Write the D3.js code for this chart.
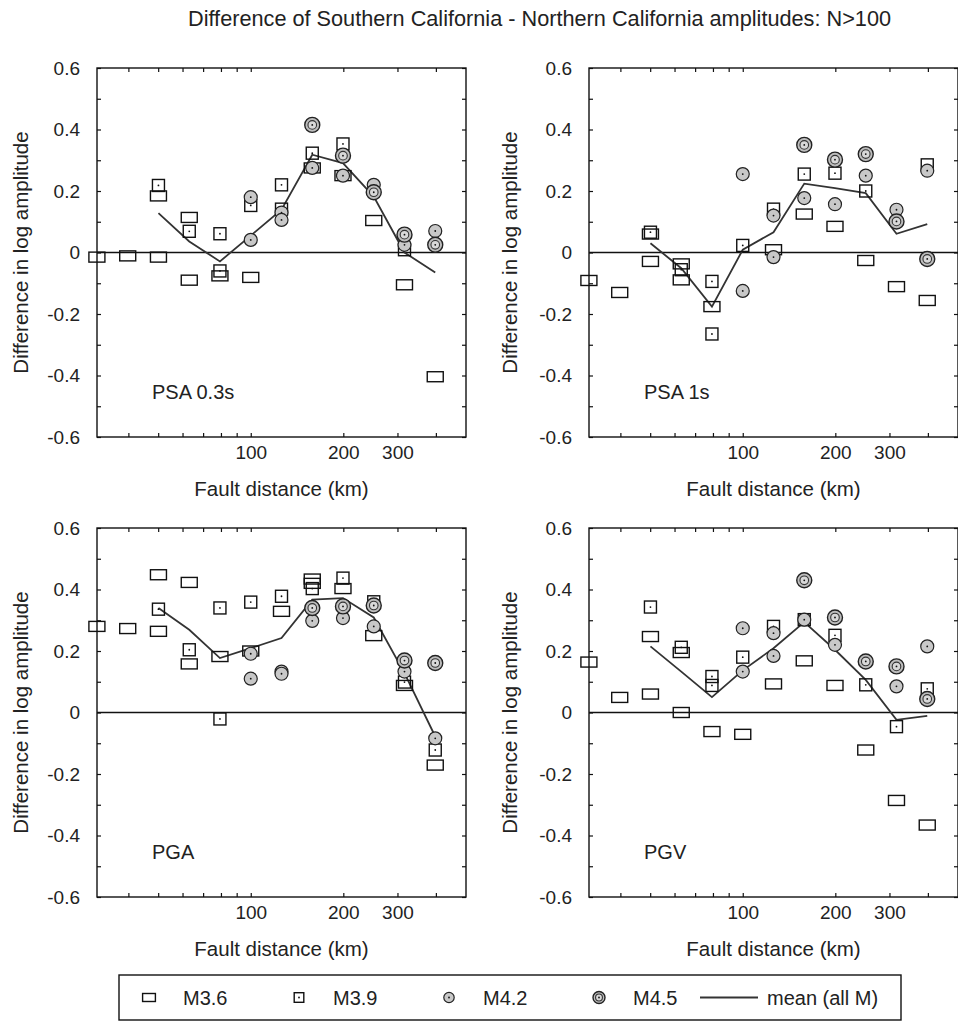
<!DOCTYPE html>
<html>
<head>
<meta charset="utf-8">
<script src="https://cdn.jsdelivr.net/npm/d3@7"></script>
<style>
  body { margin: 0; background: #fff; }
  svg { display: block; font-family: "Liberation Sans", Arial, sans-serif; }
</style>
</head>
<body>
<svg id="chart" width="958" height="1024"></svg>
<script>
// distance bins (km), 0.1 log units apart
const distances = [31.6, 39.8, 50.1, 63.1, 79.4, 100, 125.9, 158.5, 199.5, 251.2, 316.2, 398.1];
const yTickValues = [-0.6, -0.5, -0.4, -0.3, -0.2, -0.1, 0, 0.1, 0.2, 0.3, 0.4, 0.5, 0.6];
const yTickLabels = ['-0.6', '', '-0.4', '', '-0.2', '', '0', '', '0.2', '', '0.4', '', '0.6'];
const xTickValues = [40, 50, 60, 70, 80, 90, 100, 200, 300, 400];
const xTickLabels = ['', '', '', '', '', '', '100', '200', '300', ''];

// [bin index, difference] per magnitude
const psa03M36 = [[0,-0.015],[1,-0.011],[2,-0.015],[2,0.184],[3,-0.09],[3,0.114],[4,-0.076],[5,-0.081],[7,0.275],[8,0.25],[9,0.104],[10,-0.105],[11,-0.404]];
const psa03M39 = [[2,0.218],[3,0.069],[4,0.061],[4,-0.06],[5,0.153],[6,0.22],[6,0.141],[7,0.323],[8,0.353],[10,0.009]];
const psa03M42 = [[5,0.18],[5,0.041],[6,0.13],[6,0.106],[7,0.275],[8,0.25],[9,0.22],[10,0.025],[11,0.07]];
const psa03M45 = [[7,0.415],[8,0.315],[9,0.196],[10,0.058],[11,0.025]];
const psa03Mean = [null, null, 0.128, 0.036, -0.029, 0.055, 0.139, 0.318, 0.291, 0.182, 0.0, -0.065];

const psa1M36 = [[0,-0.091],[1,-0.13],[2,-0.029],[2,0.06],[3,-0.037],[3,-0.089],[4,-0.176],[6,0.009],[7,0.125],[8,0.085],[9,-0.026],[10,-0.111],[11,-0.156]];
const psa1M39 = [[2,0.066],[3,-0.056],[4,-0.094],[4,-0.265],[5,0.023],[6,0.141],[7,0.255],[8,0.258],[9,0.2],[11,0.285]];
const psa1M42 = [[5,0.255],[5,-0.125],[6,0.12],[6,-0.015],[7,0.177],[8,0.157],[9,0.25],[10,0.139],[11,0.266]];
const psa1M45 = [[7,0.35],[8,0.302],[9,0.32],[10,0.101],[11,-0.021]];
const psa1Mean = [null, null, 0.03, -0.051, -0.176, 0.009, 0.066, 0.224, 0.209, 0.193, 0.061, 0.092];

const pgaM36 = [[0,0.28],[1,0.273],[2,0.448],[2,0.264],[3,0.423],[3,0.158],[4,0.182],[5,0.2],[6,0.329],[7,0.434],[7,0.42],[8,0.403],[9,0.25],[10,0.088],[11,-0.171]];
const pgaM39 = [[2,0.336],[3,0.204],[4,0.34],[4,-0.021],[5,0.359],[6,0.378],[7,0.403],[8,0.437],[9,0.36],[10,0.099],[11,-0.122]];
const pgaM42 = [[5,0.191],[5,0.11],[6,0.133],[6,0.126],[7,0.34],[7,0.298],[8,0.307],[9,0.28],[10,0.133],[11,-0.084]];
const pgaM45 = [[7,0.34],[8,0.345],[9,0.348],[10,0.169],[11,0.161]];
const pgaMean = [null, null, 0.34, 0.269, 0.177, 0.209, 0.242, 0.367, 0.372, 0.309, 0.128, -0.078];

const pgvM36 = [[0,0.164],[1,0.049],[2,0.247],[2,0.06],[3,0.195],[3,0.0],[4,-0.062],[5,-0.071],[6,0.093],[7,0.168],[8,0.088],[9,-0.122],[10,-0.286],[11,-0.366]];
const pgvM39 = [[2,0.343],[3,0.212],[4,0.117],[4,0.088],[5,0.18],[6,0.28],[7,0.302],[8,0.251],[9,0.09],[10,-0.046],[11,0.077]];
const pgvM42 = [[5,0.274],[5,0.133],[6,0.258],[6,0.184],[7,0.302],[8,0.22],[10,0.085],[11,0.215]];
const pgvM45 = [[7,0.43],[8,0.309],[9,0.166],[10,0.15],[11,0.044]];
const pgvMean = [null, null, 0.215, 0.133, 0.05, 0.137, 0.209, 0.294, 0.204, 0.106, -0.024, -0.011];

const panels = [
  { label: 'PSA 0.3s', left: 97, top: 68, m36: psa03M36, m39: psa03M39, m42: psa03M42, m45: psa03M45, mean: psa03Mean },
  { label: 'PSA 1s', left: 589, top: 68, m36: psa1M36, m39: psa1M39, m42: psa1M42, m45: psa1M45, mean: psa1Mean },
  { label: 'PGA', left: 97, top: 528, m36: pgaM36, m39: pgaM39, m42: pgaM42, m45: pgaM45, mean: pgaMean },
  { label: 'PGV', left: 589, top: 528, m36: pgvM36, m39: pgvM39, m42: pgvM42, m45: pgvM45, mean: pgvMean }
];

const size = 369;
const svg = d3.select('#chart');

const x = d3.scaleLog().domain([Math.pow(10, 1.5), Math.pow(10, 2.7)]).range([0, size]);
const y = d3.scaleLinear().domain([-0.6, 0.6]).range([size, 0]);

// marker painters
const drawM36 = (g, cx, cy, k = 1) => {
  g.append('rect').attr('x', cx - 8 * k).attr('y', cy - 5 * k).attr('width', 16 * k).attr('height', 10 * k)
    .attr('fill', 'none').attr('stroke', '#111').attr('stroke-width', 1.4);
};
const drawM39 = (g, cx, cy, k = 1) => {
  g.append('rect').attr('x', cx - 6 * k).attr('y', cy - 6 * k).attr('width', 12 * k).attr('height', 12 * k)
    .attr('fill', 'none').attr('stroke', '#111').attr('stroke-width', 1.4);
  g.append('circle').attr('cx', cx).attr('cy', cy).attr('r', 0.9).attr('fill', '#111');
};
const drawM42 = (g, cx, cy, k = 1) => {
  g.append('circle').attr('cx', cx).attr('cy', cy).attr('r', 6.5 * k)
    .attr('fill', '#c8c8c8').attr('stroke', '#222').attr('stroke-width', 1.2);
  g.append('circle').attr('cx', cx).attr('cy', cy).attr('r', 0.9).attr('fill', '#111');
};
const drawM45 = (g, cx, cy, k = 1) => {
  g.append('circle').attr('cx', cx).attr('cy', cy).attr('r', 7.5 * k)
    .attr('fill', '#bdbdbd').attr('stroke', '#222').attr('stroke-width', 1.4);
  g.append('circle').attr('cx', cx).attr('cy', cy).attr('r', 4.3 * k)
    .attr('fill', '#d8d8d8').attr('stroke', '#333').attr('stroke-width', 1.1);
  g.append('circle').attr('cx', cx).attr('cy', cy).attr('r', 0.9).attr('fill', '#111');
};

panels.forEach(p => {
  const g = svg.append('g').attr('transform', `translate(${p.left},${p.top})`);

  // axes, ticks pointing inward
  const styleAxis = (sel) => {
    sel.select('.domain').remove();
    sel.selectAll('.tick line').attr('stroke', '#111').attr('stroke-width', 1.2);
    sel.selectAll('.tick text').attr('fill', '#222').style('font-size', '19px');
  };
  g.append('g').call(d3.axisLeft(y).tickValues(yTickValues).tickSize(-4).tickPadding(17)
    .tickFormat((d, i) => yTickLabels[i])).call(styleAxis);
  g.append('g').attr('transform', `translate(${size},0)`)
    .call(d3.axisRight(y).tickValues(yTickValues).tickSize(-4).tickFormat('')).call(styleAxis);
  g.append('g').attr('transform', `translate(0,${size})`)
    .call(d3.axisBottom(x).tickValues(xTickValues).tickSize(-4).tickPadding(9)
      .tickFormat((d, i) => xTickLabels[i])).call(styleAxis);
  g.append('g').call(d3.axisTop(x).tickValues(xTickValues).tickSize(-4).tickFormat('')).call(styleAxis);

  g.append('rect').attr('width', size).attr('height', size)
    .attr('fill', 'none').attr('stroke', '#111').attr('stroke-width', 1.4);

  // zero line
  g.append('line').attr('x1', 0).attr('x2', size).attr('y1', y(0)).attr('y2', y(0))
    .attr('stroke', '#111').attr('stroke-width', 1.3);

  // mean line
  const meanPts = p.mean.map((v, i) => [distances[i], v]).filter(d => d[1] !== null);
  g.append('path').datum(meanPts)
    .attr('d', d3.line().x(d => x(d[0])).y(d => y(d[1])))
    .attr('fill', 'none').attr('stroke', '#333').attr('stroke-width', 1.8);

  const mg = g.append('g');
  p.m36.forEach(d => drawM36(mg, x(distances[d[0]]), y(d[1])));
  p.m39.forEach(d => drawM39(mg, x(distances[d[0]]), y(d[1])));
  p.m42.forEach(d => drawM42(mg, x(distances[d[0]]), y(d[1])));
  p.m45.forEach(d => drawM45(mg, x(distances[d[0]]), y(d[1])));

  g.append('text').attr('x', 55).attr('y', 331).text(p.label)
    .style('font-size', '20px').attr('fill', '#222');

  g.append('text').attr('x', size / 2).attr('y', size + 59).attr('text-anchor', 'middle')
    .text('Fault distance (km)').style('font-size', '20.5px').attr('fill', '#222');

  g.append('text').attr('transform', `translate(${p.left > 300 ? -79 : -76},${size / 2}) rotate(-90)`)
    .attr('text-anchor', 'middle').attr('dy', '0.35em')
    .text('Difference in log amplitude').style('font-size', '20.5px').attr('fill', '#222');
});

svg.append('text').attr('x', 188).attr('y', 26)
  .text('Difference of Southern California - Northern California amplitudes: N>100')
  .style('font-size', '21.7px').attr('fill', '#222');

// legend
const lg = svg.append('g');
lg.append('rect').attr('x', 119).attr('y', 975).attr('width', 782).attr('height', 45)
  .attr('fill', 'none').attr('stroke', '#111').attr('stroke-width', 1.4);
const ly = 997.5;
const legendItems = [
  { name: 'M3.6', draw: drawM36, x: 149 },
  { name: 'M3.9', draw: drawM39, x: 299 },
  { name: 'M4.2', draw: drawM42, x: 449 },
  { name: 'M4.5', draw: drawM45, x: 599 }
];
legendItems.forEach(it => {
  it.draw(lg, it.x, ly, 0.8);
  lg.append('text').attr('x', it.x + 34).attr('y', ly).attr('dy', '0.35em')
    .text(it.name).style('font-size', '20px').attr('fill', '#222');
});
lg.append('line').attr('x1', 700).attr('x2', 758).attr('y1', ly).attr('y2', ly)
  .attr('stroke', '#333').attr('stroke-width', 1.8);
lg.append('text').attr('x', 767).attr('y', ly).attr('dy', '0.35em')
  .text('mean (all M)').style('font-size', '20px').attr('fill', '#222');
</script>
</body>
</html>
